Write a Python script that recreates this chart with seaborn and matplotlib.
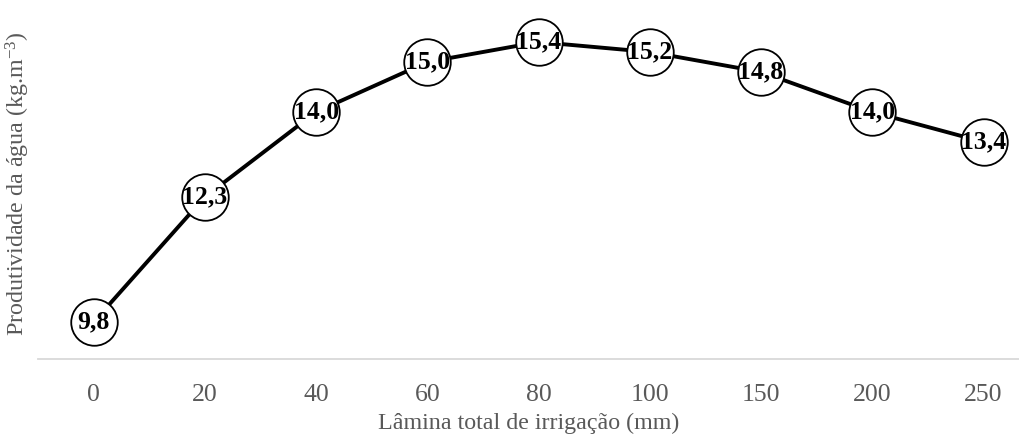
import matplotlib
matplotlib.use("Agg")
import matplotlib.pyplot as plt
import seaborn as sns
import pandas as pd

# Irrigation depth categories and water productivity values
laminas = ["0", "20", "40", "60", "80", "100", "150", "200", "250"]
produtividade = [9.8, 12.3, 14.0, 15.0, 15.4, 15.2, 14.8, 14.0, 13.4]

sns.set_theme(style="white")
plt.rcParams["font.family"] = ["Liberation Serif", "DejaVu Serif"]
plt.rcParams["mathtext.fontset"] = "custom"
plt.rcParams["mathtext.rm"] = "Liberation Serif"
plt.rcParams["mathtext.it"] = "Liberation Serif:italic"

df = pd.DataFrame({"lamina": laminas, "prod": produtividade})

fig = plt.figure(figsize=(10.2, 4.37), dpi=100)
ax = fig.add_axes([38 / 1020, 1 - 359 / 437, 1 - 38 / 1020, 351 / 437])

sns.lineplot(data=df, x="lamina", y="prod", ax=ax, color="black", linewidth=2.8,
             marker="o", markersize=33.5, markerfacecolor="white",
             markeredgecolor="black", markeredgewidth=1.3, sort=False)

for i, v in enumerate(df["prod"]):
    ax.text(i, v, f"{v:.1f}".replace(".", ","), ha="center", va="center",
            fontsize=18.5, fontweight="bold", color="black", zorder=5)

ax.set_ylim(9.06, 16.08)
ax.set_xlim(-0.5, 8.327)
ax.set_yticks([])
ax.tick_params(axis="x", length=0, labelsize=18.5, labelcolor="#595959", pad=18)

for side in ["top", "right", "left"]:
    ax.spines[side].set_visible(False)
ax.spines["bottom"].set_color("#d9d9d9")
ax.spines["bottom"].set_linewidth(1.3)

ax.set_xlabel("Lâmina total de irrigação (mm)", fontsize=17.3, color="#595959", labelpad=5)
ylab = ax.set_ylabel("Produtividade da água (kg.m$^{-3}$)", fontsize=17.3, color="#595959")
ax.yaxis.set_label_coords(-20 / 982, 0.5)
ylab.set_verticalalignment("center")

fig.savefig("out.png", dpi=100)
